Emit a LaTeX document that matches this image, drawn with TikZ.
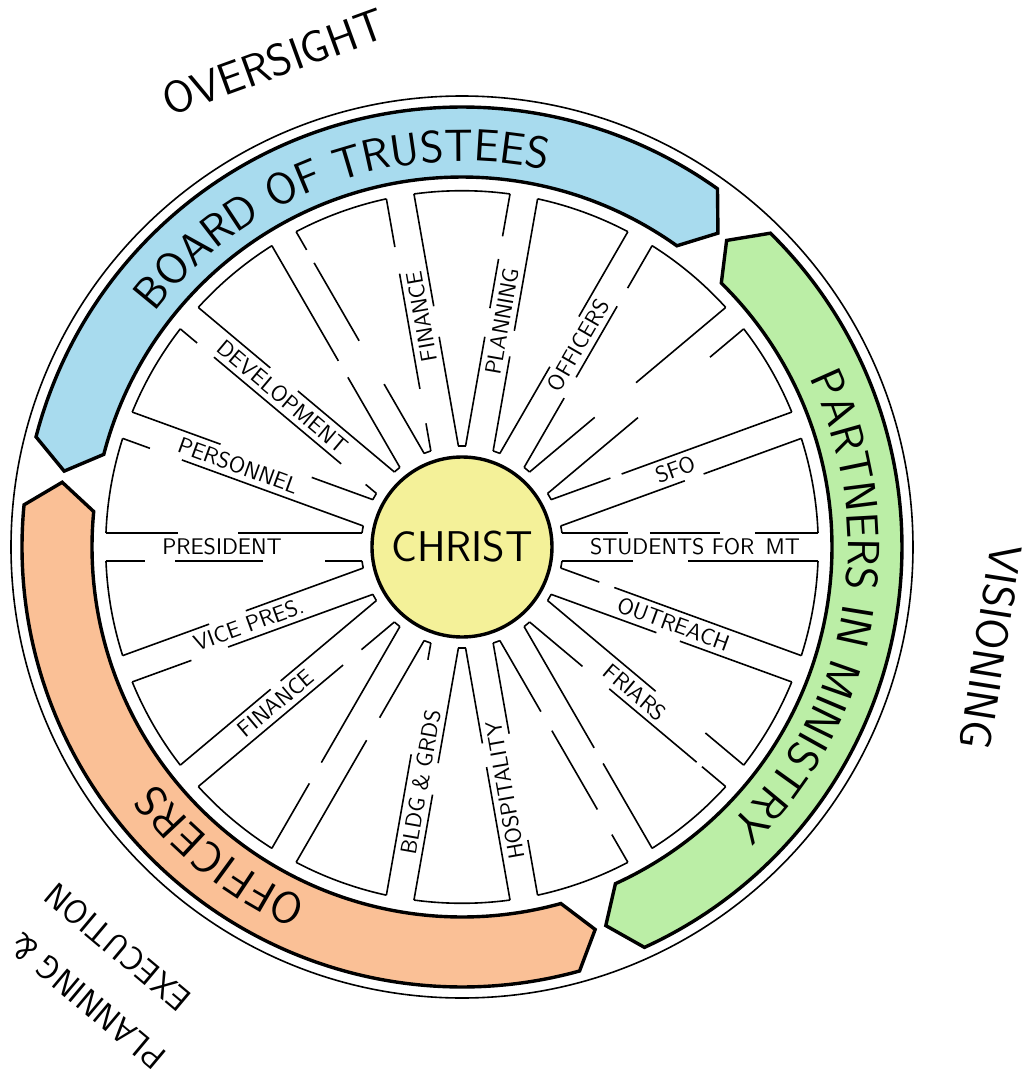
\documentclass[tikz,border=0pt]{standalone}
\usepackage{fontspec}
\usetikzlibrary{decorations.text}
\definecolor{trustblue}{RGB}{168,219,238}
\definecolor{partgreen}{RGB}{187,238,166}
\definecolor{offorange}{RGB}{250,192,150}
\definecolor{christyel}{RGB}{244,241,153}

\begin{document}
\begin{tikzpicture}[x=0.5pt,y=0.5pt]
	\tikzset{wheel/.style = {line width=0.8pt}}
	\tikzset{band/.style = {draw, line width=1.7pt, line join=miter}}
	\tikzset{spokelbl/.style = {font=\sffamily\fontsize{11.3}{11.3}\selectfont, inner sep=0pt}}
	\tikzset{outerlbl/.style = {font=\sffamily\fontsize{22.5}{22.5}\selectfont, inner sep=0pt}}
	\tikzset{hub/.style = {shape=circle, draw, line width=1.7pt, fill=christyel, minimum size=90pt,
			inner sep=0pt, font=\sffamily\fontsize{21.5}{21.5}\selectfont}}
	
	\useasboundingbox (-462,-531) rectangle (563,547);
	
	% outer ring
	\draw[wheel] (0,0) circle[radius=451];
	
	% bands
	\foreach \a/\b/\col in {54.5/165.5/trustblue, 174.5/285.5/offorange, -65.5/45.5/partgreen}
	\draw[band, fill=\col] (\a:440) arc[start angle=\a, end angle=\b, radius=440]
	-- (\b+3.7:405) -- (\b:370) arc[start angle=\b, end angle=\a, radius=370]
	-- (\a-3.7:405) -- cycle;
	
	\path[decorate, decoration={text along path, text align=center,
		text={|\sffamily\fontsize{22.5}{22.5}\selectfont|BOARD OF TRUSTEES}}]
	(165.5:386) arc[start angle=165.5, end angle=54.5, radius=386];
	\path[decorate, decoration={text along path, text align=center,
		text={|\sffamily\fontsize{22.5}{22.5}\selectfont|PARTNERS IN MINISTRY}}]
	(45.5:386) arc[start angle=45.5, end angle=-65.5, radius=386];
	\path[decorate, decoration={text along path, text align=center,
		text={|\sffamily\fontsize{22.5}{22.5}\selectfont|OFFICERS}}]
	(287.5:386) arc[start angle=287.5, end angle=176.5, radius=386];
	
	% spokes: solid pieces on the two sides of each spoke
	\foreach \th/\pl/\ml in {
		0/{100/166,188/258,293/356}/{100/171,226/356},
		20/{100/163,175/356}/{100/232,252/356},
		40/{100/185,239/356}/{100/218,312/356},
		60/{100/200,258/356}/{100/180,204/286,307/356},
		80/{100/211,240/290,313/356}/{100/196,222/356},
		100/{100/128,163/280,307/356}/{100/211,242/356},
		120/{100/204,223/356}/{100/180,230/320,335/356},
		140/{100/114,146/312,334/356}/{100/226,262/356},
		160/{100/293,327/356}/{100/165,262/356},
		180/{100/137,199/287,317/356}/{100/224,284/356},
		200/{100/254,293/356}/{100/225,264/356},
		220/{100/143,167/356}/{100/225,238/356},
		240/{100/189,215/356}/{100/257,281/356},
		260/{100/217,249/356}/{100/117,213/356},
		280/{100/192,300/356}/{100/197,221/356},
		300/{100/240,258/356}/{100/182,204/295,324/356},
		320/{100/241,306/356}/{100/169,204/318,325/356},
		340/{100/141,157/356}/{100/212,237/356}}{
		\foreach \s/\e in \pl
		\draw[wheel, rotate=\th] (\s,14) -- (\e,14);
		\foreach \s/\e in \ml
		\draw[wheel, rotate=\th] (\s,-14) -- (\e,-14);
	}
	
	% box ends
	\foreach \th in {0,20,...,340}{
		\draw[wheel] (\th+7.97:101) -- (\th+12.03:101);
		\draw[wheel] (\th+2.25:356.3) arc[start angle=\th+2.25, end angle=\th+17.75, radius=356.3];
	}
	
	% hub
	\node[hub] (christ) at (0,0) {CHRIST};
	
	% spoke labels
	\foreach \th/\t/\rot/\txt in {0/233/0/STUDENTS FOR\enspace MT, 20/227/20/SFO,
		60/233/60/OFFICERS, 80/229/80/PLANNING, 100/234/100/FINANCE,
		140/234/-40/DEVELOPMENT, 160/238/-20/PERSONNEL, 180/240/0/PRESIDENT,
		200/227/20/VICE PRES., 220/243/40/FINANCE, 260/239/80/BLDG \& GRDS,
		280/247/100/HOSPITALITY, 320/226/-40/FRIARS, 340/225/-20/OUTREACH}
	\node[spokelbl, rotate=\rot] (lbl\th) at (\th:\t) {\txt};
	
	% outer labels
	\node[outerlbl, rotate=20] (oversight) at (111.2:520) {OVERSIGHT};
	\node[outerlbl, rotate=-99] (visioning) at (-10.7:538) {VISIONING};
	\path[shift={(230.5:589)}, rotate=140, decorate, decoration={text along path, text align=center,
		text={|\sffamily\fontsize{17}{17}\selectfont|PLANNING {\&}}}] (-150,-12) -- (150,-12);
	\path[shift={(229.3:528)}, rotate=140, decorate, decoration={text along path, text align=center,
		text={|\sffamily\fontsize{17}{17}\selectfont|EXECUTION}}] (-150,-12) -- (150,-12);
	
\end{tikzpicture}
\end{document}
